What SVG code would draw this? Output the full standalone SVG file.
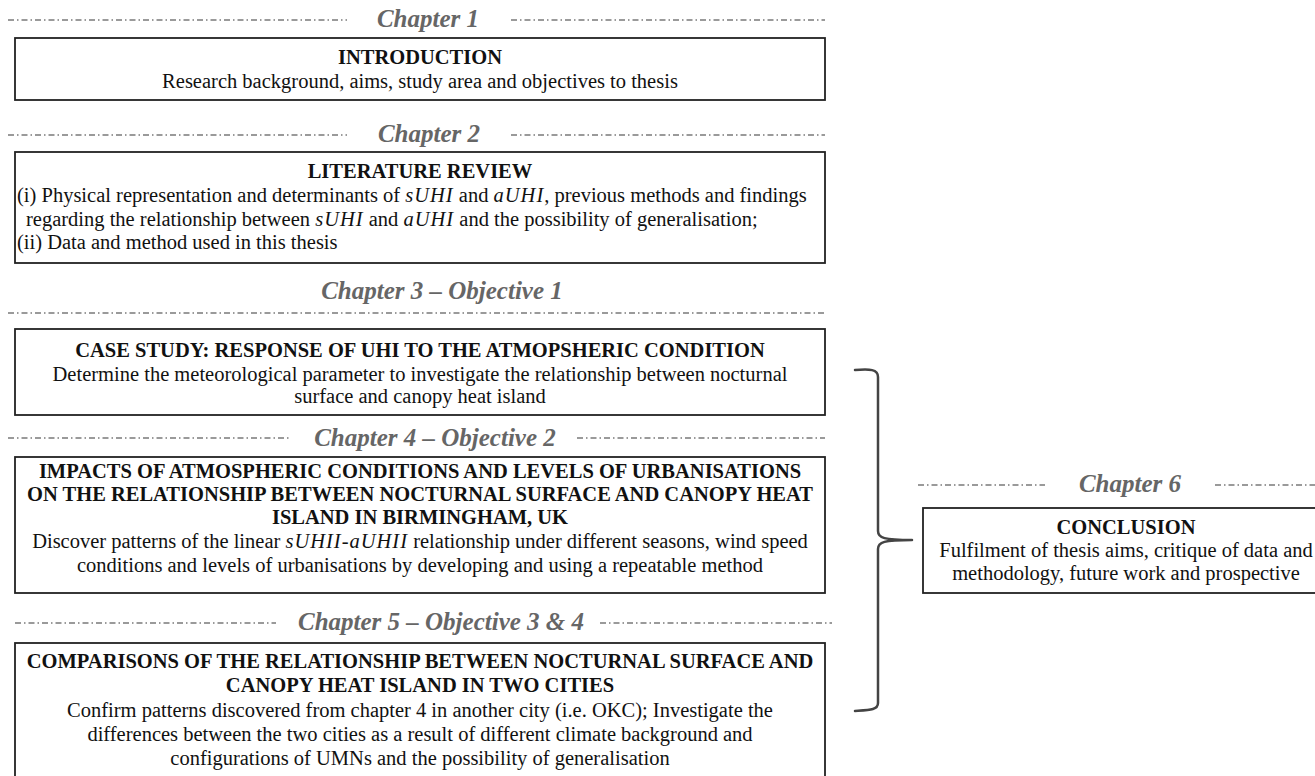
<svg xmlns="http://www.w3.org/2000/svg" width="1315" height="776" viewBox="0 0 1315 776">
<style>
.bg{fill:#fff}
.box{fill:#fff;stroke:#222;stroke-width:1.8}
.sep{stroke:#7a7a7a;stroke-width:1.3;stroke-dasharray:6 3 1.5 3;fill:none}
.ch{font-family:"Liberation Serif",serif;font-size:25px;font-weight:bold;font-style:italic;fill:#666;text-anchor:middle}
.hd{font-family:"Liberation Serif",serif;font-size:20.5px;font-weight:bold;fill:#111;text-anchor:middle}
.tx{font-family:"Liberation Serif",serif;font-size:20.5px;fill:#111;text-anchor:middle}
.tl{font-family:"Liberation Serif",serif;font-size:20.5px;fill:#111}
.m{font-style:italic;letter-spacing:1px}
.brace{fill:none;stroke:#444;stroke-width:2.5;stroke-linecap:round;stroke-linejoin:round}
</style>
<rect class="bg" x="0" y="0" width="1315" height="776"/>

<g id="chapter1">
<line class="sep" x1="8" y1="20" x2="347" y2="20"/>
<text class="ch" x="428" y="27">Chapter 1</text>
<line class="sep" x1="511" y1="20" x2="825" y2="20"/>
</g>
<g id="introduction">
<rect class="box" x="15" y="38" width="810" height="62"/>
<text class="hd" x="420" y="64">INTRODUCTION</text>
<text class="tx" x="420" y="88">Research background, aims, study area and objectives to thesis</text>
</g>

<g id="chapter2">
<line class="sep" x1="8" y1="135" x2="347" y2="135"/>
<text class="ch" x="429" y="142">Chapter 2</text>
<line class="sep" x1="511" y1="135" x2="825" y2="135"/>
</g>
<g id="literature">
<rect class="box" x="15" y="152" width="810" height="111"/>
<text class="hd" x="420" y="178">LITERATURE REVIEW</text>
<text class="tl" x="17" y="202">(i) Physical representation and determinants of <tspan class="m">sUHI</tspan> and <tspan class="m">aUHI</tspan>, previous methods and findings</text>
<text class="tl" x="26" y="226">regarding the relationship between <tspan class="m">sUHI</tspan> and <tspan class="m">aUHI</tspan> and the possibility of generalisation;</text>
<text class="tl" x="17" y="249">(ii) Data and method used in this thesis</text>
</g>

<g id="chapter3">
<text class="ch" x="442" y="299">Chapter 3 – Objective 1</text>
<line class="sep" x1="8" y1="313" x2="825" y2="313"/>
</g>
<g id="casestudy">
<rect class="box" x="15" y="329" width="810" height="86"/>
<text class="hd" x="420" y="357">CASE STUDY: RESPONSE OF UHI TO THE ATMOPSHERIC CONDITION</text>
<text class="tx" x="420" y="381">Determine the meteorological parameter to investigate the relationship between nocturnal</text>
<text class="tx" x="420" y="403">surface and canopy heat island</text>
</g>

<g id="chapter4">
<line class="sep" x1="8" y1="438" x2="290" y2="438"/>
<text class="ch" x="435" y="446">Chapter 4 – Objective 2</text>
<line class="sep" x1="577" y1="438" x2="825" y2="438"/>
</g>
<g id="impacts">
<rect class="box" x="15" y="457" width="810" height="136"/>
<text class="hd" x="420" y="478">IMPACTS OF ATMOSPHERIC CONDITIONS AND LEVELS OF URBANISATIONS</text>
<text class="hd" x="420" y="501">ON THE RELATIONSHIP BETWEEN NOCTURNAL SURFACE AND CANOPY HEAT</text>
<text class="hd" x="420" y="524">ISLAND IN BIRMINGHAM, UK</text>
<text class="tx" x="420" y="548">Discover patterns of the linear <tspan class="m">sUHII-aUHII</tspan> relationship under different seasons, wind speed</text>
<text class="tx" x="420" y="572">conditions and levels of urbanisations by developing and using a repeatable method</text>
</g>

<g id="chapter5">
<line class="sep" x1="15" y1="623" x2="276" y2="623"/>
<text class="ch" x="441" y="630">Chapter 5 – Objective 3 &amp; 4</text>
<line class="sep" x1="600" y1="623" x2="832" y2="623"/>
</g>
<g id="comparisons">
<rect class="box" x="15" y="643" width="810" height="150"/>
<text class="hd" x="420" y="668">COMPARISONS OF THE RELATIONSHIP BETWEEN NOCTURNAL SURFACE AND</text>
<text class="hd" x="420" y="692">CANOPY HEAT ISLAND IN TWO CITIES</text>
<text class="tx" x="420" y="717">Confirm patterns discovered from chapter 4 in another city (i.e. OKC); Investigate the</text>
<text class="tx" x="420" y="741">differences between the two cities as a result of different climate background and</text>
<text class="tx" x="420" y="765">configurations of UMNs and the possibility of generalisation</text>
</g>

<g id="connectors">
<path class="brace" d="M 855 370 C 870 369, 878 369, 878 377 L 878 531 C 878 538, 884 540, 912 540 C 884 540, 878 542, 878 549 L 878 703 C 878 710, 870 710, 855 711"/>
</g>

<g id="chapter6">
<line class="sep" x1="918" y1="485" x2="1045" y2="485"/>
<text class="ch" x="1130" y="492">Chapter 6</text>
<line class="sep" x1="1215" y1="485" x2="1315" y2="485"/>
</g>
<g id="conclusion">
<rect class="box" x="923" y="508" width="420" height="85"/>
<text class="hd" x="1126" y="534">CONCLUSION</text>
<text class="tx" x="1126" y="557">Fulfilment of thesis aims, critique of data and</text>
<text class="tx" x="1126" y="580">methodology, future work and prospective</text>
</g>
</svg>
